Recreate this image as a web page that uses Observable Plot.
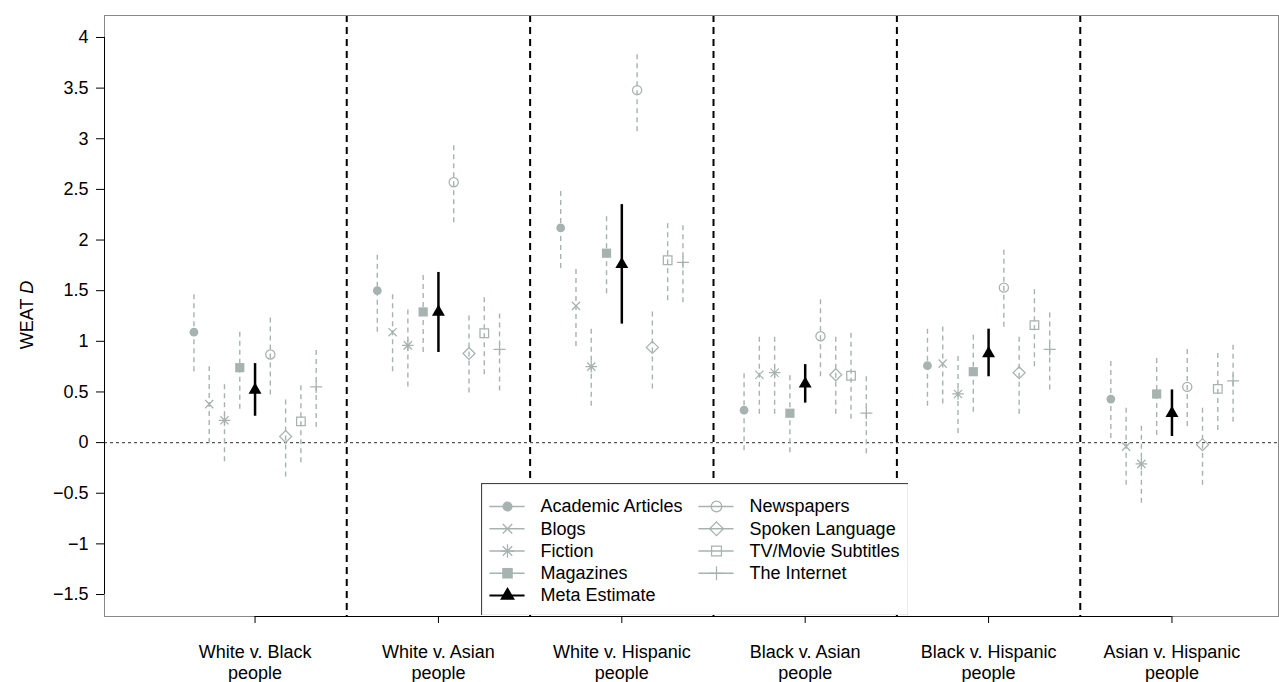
<!DOCTYPE html>
<html><head><meta charset="utf-8">
<script src="https://cdn.jsdelivr.net/npm/d3@7"></script>
<script src="https://cdn.jsdelivr.net/npm/@observablehq/plot@0.6"></script>
<style>
body{margin:0;background:#fff;font-family:"Liberation Sans",Arial,sans-serif;}
#wrap{position:relative;width:1279px;height:682px;overflow:hidden;}
#legend{position:absolute;left:481px;top:483px;}
</style></head><body><div id="wrap"><div id="chart"></div><div id="legend"></div></div>
<script>
// ---------- data ----------
const groups = ["White v. Black\npeople", "White v. Asian\npeople", "White v. Hispanic\npeople",
                "Black v. Asian\npeople", "Black v. Hispanic\npeople", "Asian v. Hispanic\npeople"];
const seriesNames = ["Academic Articles", "Blogs", "Fiction", "Magazines", "Meta Estimate",
                     "Newspapers", "Spoken Language", "TV/Movie Subtitles", "The Internet"];
// [estimate, lower, upper] per group
const academic   = [[1.09,0.70,1.47],[1.50,1.09,1.87],[2.12,1.72,2.50],[0.32,-0.08,0.70],[0.76,0.36,1.13],[0.43,0.04,0.81]];
const blogs      = [[0.38,-0.01,0.75],[1.09,0.70,1.48],[1.35,0.95,1.73],[0.67,0.28,1.06],[0.78,0.38,1.15],[-0.04,-0.42,0.34]];
const fiction    = [[0.22,-0.19,0.59],[0.96,0.55,1.34],[0.75,0.36,1.14],[0.69,0.28,1.06],[0.48,0.09,0.86],[-0.21,-0.60,0.18]];
const magazines  = [[0.74,0.33,1.10],[1.29,0.89,1.68],[1.87,1.47,2.25],[0.29,-0.10,0.67],[0.70,0.30,1.07],[0.48,0.07,0.85]];
const meta       = [[0.52,0.26,0.78],[1.29,0.89,1.68],[1.76,1.17,2.35],[0.58,0.39,0.77],[0.88,0.65,1.12],[0.29,0.06,0.52]];
const newspapers = [[0.87,0.47,1.25],[2.57,2.17,2.95],[3.48,3.07,3.86],[1.05,0.65,1.43],[1.53,1.14,1.91],[0.55,0.16,0.94]];
const spoken     = [[0.06,-0.34,0.43],[0.88,0.49,1.27],[0.94,0.53,1.31],[0.67,0.28,1.05],[0.69,0.28,1.05],[-0.02,-0.42,0.36]];
const tv         = [[0.21,-0.20,0.57],[1.08,0.67,1.45],[1.80,1.40,2.17],[0.66,0.23,1.09],[1.16,0.75,1.53],[0.53,0.12,0.90]];
const internet   = [[0.55,0.15,0.93],[0.92,0.51,1.28],[1.78,1.38,2.16],[0.29,-0.11,0.67],[0.92,0.52,1.29],[0.61,0.20,0.98]];
const yTicks = [-1.5,-1,-0.5,0,0.5,1,1.5,2,2.5,3,3.5,4];

// ---------- styling ----------
const gray = "#a6b3b0";
const FONT = "'Liberation Sans', Arial, Helvetica, sans-serif";
const xDomain = [0.179, 6.581];
const yDomain = [-1.717, 4.217];

// custom symbols (r = half-extent)
const mk = f => ({draw(c, size){ f(c, Math.sqrt(size / Math.PI)); }});
const symCircle = mk((c,r)=>{ c.moveTo(r,0); c.arc(0,0,r,0,2*Math.PI); c.closePath(); });
const symTimes  = mk((c,r)=>{ c.moveTo(-r,-r); c.lineTo(r,r); c.moveTo(-r,r); c.lineTo(r,-r); });
const symPlus   = mk((c,r)=>{ c.moveTo(-r,0); c.lineTo(r,0); c.moveTo(0,-r); c.lineTo(0,r); });
const symAst    = mk((c,r)=>{ const q=r/Math.SQRT2; c.moveTo(-r,0); c.lineTo(r,0); c.moveTo(0,-r); c.lineTo(0,r);
                              c.moveTo(-q,-q); c.lineTo(q,q); c.moveTo(-q,q); c.lineTo(q,-q); });
const symSquare = mk((c,r)=>{ c.rect(-r,-r,2*r,2*r); });
const symDiam   = mk((c,r)=>{ c.moveTo(0,-r); c.lineTo(r,0); c.lineTo(0,r); c.lineTo(-r,0); c.closePath(); });
const symTri    = mk((c,r)=>{ c.moveTo(0,-1.555*r); c.lineTo(1.347*r,0.777*r); c.lineTo(-1.347*r,0.777*r); c.closePath(); });

const seriesData = [academic, blogs, fiction, magazines, meta, newspapers, spoken, tv, internet];
const styles = [
  {symbol: symCircle, r: 4.4, fill: gray, stroke: "none"},
  {symbol: symTimes,  r: 4.1, fill: "none", stroke: gray},
  {symbol: symAst,    r: 5.8, fill: "none", stroke: gray},
  {symbol: symSquare, r: 4.6, fill: gray, stroke: "none"},
  {symbol: symTri,    r: 4.8, fill: "#000", stroke: "none"},
  {symbol: symCircle, r: 4.6, fill: "none", stroke: gray},
  {symbol: symDiam,   r: 6.0, fill: "none", stroke: gray},
  {symbol: symSquare, r: 4.3, fill: "none", stroke: gray},
  {symbol: symPlus,   r: 6.0, fill: "none", stroke: gray}
];

const rows = [];
seriesData.forEach((arr, k) => arr.forEach((v, g) => rows.push({
  series: seriesNames[k], k, g: g + 1, x: g + 1 + (k - 4) / 12, est: v[0], lo: v[1], hi: v[2]
})));

const marks = [
  Plot.ruleY([0], {stroke: "#555", strokeDasharray: "3,3", strokeWidth: 1.4}),
  Plot.ruleX([1.5, 2.5, 3.5, 4.5, 5.5], {stroke: "#000", strokeWidth: 2, strokeDasharray: "7,5"}),
];
seriesNames.forEach((name, k) => {
  const d = rows.filter(r => r.k === k);
  const isMeta = name === "Meta Estimate";
  marks.push(Plot.ruleX(d, {x: "x", y1: "lo", y2: "hi",
    stroke: isMeta ? "#000" : gray, strokeWidth: isMeta ? 2.5 : 1.4,
    strokeDasharray: isMeta ? null : "5,4"}));
});
seriesNames.forEach((name, k) => {
  const d = rows.filter(r => r.k === k);
  const s = styles[k];
  marks.push(Plot.dot(d, {x: "x", y: "est", symbol: s.symbol, r: s.r, fill: s.fill, stroke: s.stroke, strokeWidth: 1.25}));
});
marks.push(
  Plot.frame({stroke: "#888"}),
  Plot.ruleX([xDomain[0]], {y1: yTicks[0], y2: yTicks[yTicks.length-1], stroke: "#000"}),
  Plot.ruleY([yDomain[0]], {x1: 1, x2: groups.length, stroke: "#000"}),
  Plot.axisY({ticks: yTicks, tickSize: 8, tickPadding: 8, label: null,
    tickFormat: d => (d < 0 ? "\u2212" : "") + Math.abs(d), fontSize: 18}),
  Plot.axisX({ticks: d3.range(1, groups.length + 1), tickSize: 7, tickPadding: 19, label: null,
    tickFormat: i => groups[i - 1], fontSize: 18, lineHeight: 1.2})
);

const chart = Plot.plot({
  width: 1279, height: 682,
  marginLeft: 104, marginRight: 1, marginTop: 15, marginBottom: 66,
  x: {domain: xDomain},
  y: {domain: yDomain},
  style: {fontFamily: FONT, fontSize: "18px", color: "#000", background: "#fff"},
  marks
});
document.getElementById("chart").append(chart);

// y-axis title with italic D
const t = d3.select(chart).append("text")
  .attr("transform", "translate(33,315) rotate(-90)")
  .attr("text-anchor", "middle")
  .style("font-family", FONT).style("font-size", "18px").attr("fill", "#000");
t.append("tspan").text("WEAT ");
t.append("tspan").style("font-style", "italic").text("D");

// ---------- legend ----------
const legendCols = [0,0,0,0,0,1,1,1,1];
const legendRows = [0,1,2,3,4,0,1,2,3];
const items = seriesNames.map((name, k) => ({name, k, col: legendCols[k], row: legendRows[k]}));
const lmarks = [
  Plot.frame({stroke: "#444", strokeWidth: 1.2}),
  Plot.ruleY(items, {y: "row", x1: d => d.col - 0.084, x2: d => d.col + 0.084,
    stroke: d => d.name === "Meta Estimate" ? "#000" : gray,
    strokeWidth: d => d.name === "Meta Estimate" ? 2 : 1.5})
];
items.forEach(it => {
  const s = styles[it.k];
  lmarks.push(Plot.dot([it], {x: "col", y: "row", symbol: s.symbol, r: s.r * 1.15,
    fill: s.fill, stroke: s.stroke, strokeWidth: 1.25}));
});
lmarks.push(Plot.text(items, {x: "col", y: "row", text: "name", dx: 33, textAnchor: "start", fontSize: 18}));
const legend = Plot.plot({
  width: 427, height: 132, margin: 0,
  x: {domain: [0, 1], range: [26, 235], axis: null},
  y: {domain: [0, 4], range: [23, 112], axis: null},
  style: {fontFamily: FONT, fontSize: "18px", color: "#000", background: "#fff"},
  marks: lmarks
});
document.getElementById("legend").append(legend);
</script></body></html>
